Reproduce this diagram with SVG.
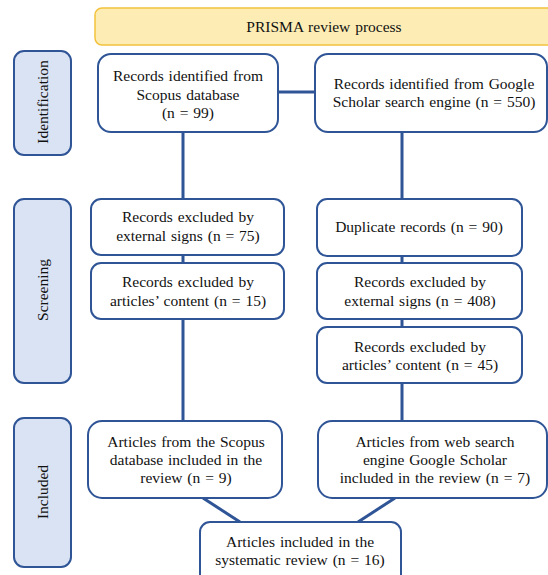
<svg xmlns="http://www.w3.org/2000/svg" width="548" height="575" viewBox="0 0 548 575">
<style>
.box{fill:#fff;stroke:#2F5597;stroke-width:2}
.side{fill:#DAE3F3;stroke:#2F5597;stroke-width:2}
.t{font-family:'Liberation Serif','Tinos','Times New Roman',serif;font-size:15.5px;fill:#111;text-anchor:middle;word-spacing:1px}
.c{stroke:#2F5597;stroke-width:3;fill:none}
</style>
<rect width="548" height="575" fill="#fff"/>
<g id="title"><rect x="95" y="8" width="470" height="37" rx="7" fill="#FDEDB5" stroke="#F2C23C" stroke-width="1.5"/><text class="t" x="324" y="32">PRISMA review process</text></g>
<g id="connectors">
<line class="c" x1="278" y1="92" x2="315" y2="92"/>
<line class="c" x1="183" y1="132" x2="183" y2="421"/>
<line class="c" x1="402" y1="132" x2="402" y2="421"/>
<line class="c" x1="203" y1="498" x2="240" y2="522"/>
<line class="c" x1="395" y1="498" x2="358" y2="522"/>
</g>
<g id="lab-identification"><rect class="side" x="14" y="51" width="57" height="104" rx="10"/><text class="t" transform="translate(47.5,102) rotate(-90)">Identification</text></g>
<g id="lab-screening"><rect class="side" x="14" y="199" width="57" height="184" rx="10"/><text class="t" transform="translate(47.5,290) rotate(-90)">Screening</text></g>
<g id="lab-included"><rect class="side" x="14" y="418" width="57" height="149" rx="10"/><text class="t" transform="translate(47.5,492) rotate(-90)">Included</text></g>
<g id="scopus"><rect class="box" x="98" y="54" width="180" height="78" rx="13"/><text class="t"><tspan x="188" y="81">Records identified from</tspan><tspan x="188" y="99.5">Scopus database</tspan><tspan x="188" y="118">(n = 99)</tspan></text></g>
<g id="google"><rect class="box" x="315" y="54" width="232" height="78" rx="13"/><text class="t"><tspan x="434" y="89">Records identified from Google</tspan><tspan x="434" y="107">Scholar search engine (n = 550)</tspan></text></g>
<g id="s-ext"><rect class="box" x="91" y="199" width="193" height="56" rx="10"/><text class="t"><tspan x="188" y="222">Records excluded by</tspan><tspan x="188" y="241">external signs (n = 75)</tspan></text></g>
<g id="s-cont"><rect class="box" x="91" y="263" width="193" height="56" rx="10"/><text class="t"><tspan x="188" y="287">Records excluded by</tspan><tspan x="188" y="306">articles’ content (n = 15)</tspan></text></g>
<g id="g-dup"><rect class="box" x="317" y="199" width="205" height="57" rx="10"/><text class="t" x="419" y="232">Duplicate records (n = 90)</text></g>
<g id="g-ext"><rect class="box" x="317" y="263" width="205" height="56" rx="10"/><text class="t"><tspan x="420" y="287">Records excluded by</tspan><tspan x="420" y="306">external signs (n = 408)</tspan></text></g>
<g id="g-cont"><rect class="box" x="317" y="327" width="205" height="56" rx="10"/><text class="t"><tspan x="420" y="352">Records excluded by</tspan><tspan x="420" y="370">articles’ content (n = 45)</tspan></text></g>
<g id="inc-scopus"><rect class="box" x="88" y="421" width="194" height="77" rx="14"/><text class="t"><tspan x="186" y="447">Articles from the Scopus</tspan><tspan x="186" y="465">database included in the</tspan><tspan x="186" y="483">review (n = 9)</tspan></text></g>
<g id="inc-google"><rect class="box" x="318" y="421" width="229" height="77" rx="14"/><text class="t"><tspan x="435" y="447">Articles from web search</tspan><tspan x="435" y="465">engine Google Scholar</tspan><tspan x="435" y="483">included in the review (n = 7)</tspan></text></g>
<g id="final"><rect class="box" x="200" y="522" width="201" height="62" rx="10"/><text class="t"><tspan x="300" y="547">Articles included in the</tspan><tspan x="300" y="565">systematic review (n = 16)</tspan></text></g>
</svg>
